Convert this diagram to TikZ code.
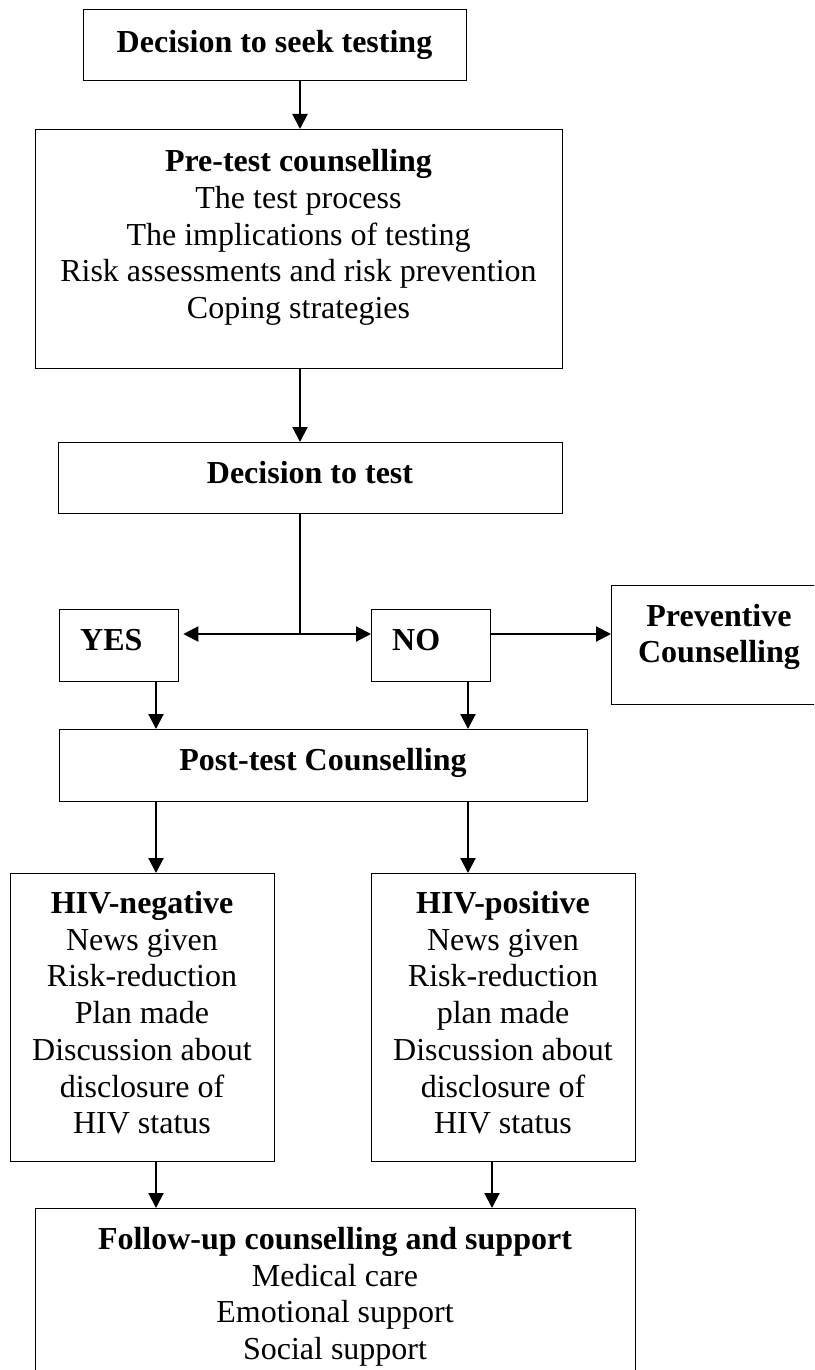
\documentclass[tikz,border=0pt]{standalone}
\usepackage{fontspec}
\setmainfont{Liberation Serif}
\usetikzlibrary{arrows.meta}
\begin{document}
\begin{tikzpicture}[x=1pt,y=-1pt,
  box/.style={draw, line width=1.3pt, rectangle, inner sep=0pt, anchor=north west},
  txt/.style={inner sep=0pt, anchor=north, align=center, font=\fontsize{32}{36.7}\selectfont},
  arr/.style={line width=2pt, -{Triangle[width=15pt,length=15pt]}}]
\useasboundingbox (0,0) rectangle (814,1370);
\clip (0,0) rectangle (814,1370);
% boxes
\node[box, minimum width=383pt, minimum height=71pt]  (b1)   at (83,9) {};
\node[box, minimum width=527pt, minimum height=239pt] (b2)   at (35,129) {};
\node[box, minimum width=504pt, minimum height=71pt]  (b3)   at (58,442) {};
\node[box, minimum width=119pt, minimum height=72pt]  (yes)  at (59,609) {};
\node[box, minimum width=119pt, minimum height=72pt]  (no)   at (371,609) {};
\node[box, minimum width=216pt, minimum height=119pt] (prev) at (611,585) {};
\node[box, minimum width=528pt, minimum height=72pt]  (post) at (59,729) {};
\node[box, minimum width=264pt, minimum height=288pt] (neg)  at (10,873) {};
\node[box, minimum width=264pt, minimum height=288pt] (pos)  at (371,873) {};
\node[box, minimum width=600pt, minimum height=190pt] (fol)  at (35,1208) {};
% texts
\node[txt] (t1) at (274.5,26.3) {\strut\bfseries Decision to seek testing};
\node[txt] (t2) at (298.5,146) {\strut{\bfseries Pre-test counselling}\\The test process\\The implications of testing\\Risk assessments and risk prevention\\Coping strategies};
\node[txt] (t3) at (310,457.6) {\strut\bfseries Decision to test};
\node[txt, anchor=north west] (tyes) at (80,625) {\strut\bfseries YES};
\node[txt, anchor=north west] (tno) at (392,625) {\strut\bfseries NO};
\node[txt] (tprev) at (719,600.3) {\strut{\bfseries Preventive}\\{\bfseries Counselling}};
\node[txt] (tpost) at (323,744.3) {\strut\bfseries Post-test Counselling};
\node[txt] (tneg) at (142,887.6) {\strut{\bfseries HIV-negative}\\News given\\Risk-reduction\\Plan made\\Discussion about\\disclosure of\\HIV status};
\node[txt] (tpos) at (503,887.6) {\strut{\bfseries HIV-positive}\\News given\\Risk-reduction\\plan made\\Discussion about\\disclosure of\\HIV status};
\node[txt] (tfol) at (335,1223.6) {\strut{\bfseries Follow-up counselling and support}\\Medical care\\Emotional support\\Social support};
% connector helpers
\coordinate (cx) at (300,0);
\coordinate (split) at (300,634);
\coordinate (xa) at (156,0);
\coordinate (xb) at (468,0);
\coordinate (xc) at (492,0);
% connectors
\draw[arr] (b1.south -| cx) -- (b2.north -| cx);
\draw[arr] (b2.south -| cx) -- (b3.north -| cx);
\draw[line width=2pt] (b3.south -| cx) -- (split);
\draw[arr] (split) -- ([xshift=4pt]split -| yes.east);
\draw[arr] (split) -- (split -| no.west);
\draw[arr] (no.east |- split) -- (prev.west |- split);
\draw[arr] (yes.south -| xa) -- (post.north -| xa);
\draw[arr] (no.south -| xb) -- (post.north -| xb);
\draw[arr] (post.south -| xa) -- (neg.north -| xa);
\draw[arr] (post.south -| xb) -- (pos.north -| xb);
\draw[arr] (neg.south -| xa) -- (fol.north -| xa);
\draw[arr] (pos.south -| xc) -- (fol.north -| xc);
\end{tikzpicture}
\end{document}
